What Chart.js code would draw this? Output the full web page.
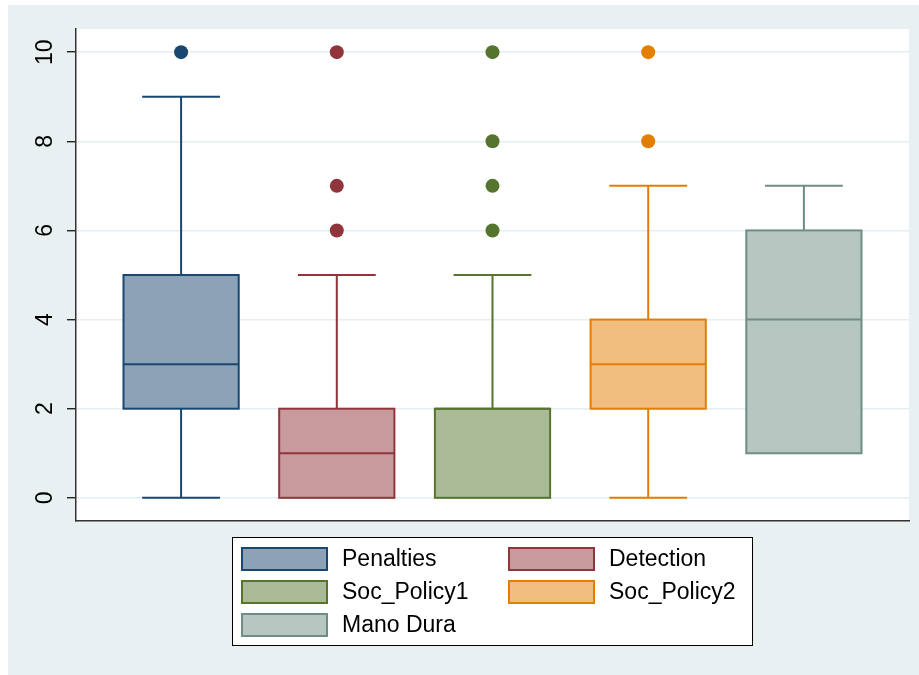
<!DOCTYPE html>
<html>
<head>
<meta charset="utf-8">
<script src="https://cdn.jsdelivr.net/npm/chart.js@4.4.1/dist/chart.umd.min.js"></script>
<style>
  html, body { margin: 0; padding: 0; background: #fff; }
  #wrap { width: 919px; height: 675px; }
</style>
</head>
<body>
<div id="wrap"><canvas id="boxChart"></canvas></div>
<script>
// data
const groups = ["Penalties", "Detection", "Soc_Policy1", "Soc_Policy2", "Mano Dura"];
const whiskerLow = [0, 0, 0, 0, 1];
const q1 = [2, 0, 0, 2, 1];
const medians = [3, 1, 2, 3, 4];
const q3 = [5, 2, 2, 4, 6];
const whiskerHigh = [9, 5, 5, 7, 7];
const outliers = [[10], [6, 7, 10], [6, 7, 8, 10], [8, 10], []];
const yTicks = [0, 2, 4, 6, 8, 10];

const lineColors = ["#1a476f", "#90353b", "#55752f", "#e37e00", "#6e8e84"];
const fillColors = ["#8ca3b7", "#c89a9d", "#aaba97", "#f1be7f", "#b6c6c1"];
const FONT = '"Liberation Sans", Arial, sans-serif';

// outer background + white plot region
const backgroundPlugin = {
  id: "background",
  beforeDraw(chart) {
    const { ctx, chartArea } = chart;
    ctx.save();
    ctx.fillStyle = "#ffffff";
    ctx.fillRect(0, 0, chart.width, chart.height);
    ctx.fillStyle = "#e8f0f2";
    ctx.fillRect(8, 5, chart.width - 8, chart.height - 5);
    ctx.fillStyle = "#ffffff";
    ctx.fillRect(chartArea.left, chartArea.top,
      chartArea.right - chartArea.left, chartArea.bottom - chartArea.top);
    ctx.restore();
  },
};

// boxes, whiskers, medians drawn through the scales
const boxPlugin = {
  id: "boxes",
  beforeDatasetsDraw(chart) {
    const { ctx } = chart;
    const xs = chart.scales.x;
    const ys = chart.scales.y;
    ctx.save();
    groups.forEach((g, i) => {
      const cx = xs.getPixelForValue(i + 1);
      const boxL = xs.getPixelForValue(i + 1 - 0.37);
      const boxR = xs.getPixelForValue(i + 1 + 0.37);
      const capL = xs.getPixelForValue(i + 1 - 0.25);
      const capR = xs.getPixelForValue(i + 1 + 0.25);
      const yQ1 = ys.getPixelForValue(q1[i]);
      const yQ3 = ys.getPixelForValue(q3[i]);
      const yMed = ys.getPixelForValue(medians[i]);
      ctx.strokeStyle = lineColors[i];
      ctx.lineWidth = 2;

      // whiskers
      if (whiskerHigh[i] > q3[i]) {
        const yw = ys.getPixelForValue(whiskerHigh[i]);
        ctx.beginPath();
        ctx.moveTo(cx, yQ3);
        ctx.lineTo(cx, yw);
        ctx.moveTo(capL, yw);
        ctx.lineTo(capR, yw);
        ctx.stroke();
      }
      if (whiskerLow[i] < q1[i]) {
        const yw = ys.getPixelForValue(whiskerLow[i]);
        ctx.beginPath();
        ctx.moveTo(cx, yQ1);
        ctx.lineTo(cx, yw);
        ctx.moveTo(capL, yw);
        ctx.lineTo(capR, yw);
        ctx.stroke();
      }

      // box
      ctx.fillStyle = fillColors[i];
      ctx.fillRect(boxL, yQ3, boxR - boxL, yQ1 - yQ3);
      ctx.strokeRect(boxL, yQ3, boxR - boxL, yQ1 - yQ3);

      // median
      ctx.beginPath();
      ctx.moveTo(boxL, yMed);
      ctx.lineTo(boxR, yMed);
      ctx.stroke();
    });
    ctx.restore();
  },
};

// rotated y tick labels + legend
const overlayPlugin = {
  id: "overlay",
  afterDraw(chart) {
    const { ctx } = chart;
    const ys = chart.scales.y;
    ctx.save();
    ctx.fillStyle = "#000";
    ctx.font = "23px " + FONT;
    ctx.textAlign = "center";
    ctx.textBaseline = "middle";
    ys.ticks.forEach((t) => {
      const y = ys.getPixelForValue(t.value);
      ctx.save();
      ctx.translate(46, y);
      ctx.rotate(-Math.PI / 2);
      ctx.fillText(String(t.value), 0, 0);
      ctx.restore();
    });

    // legend box
    ctx.fillStyle = "#fff";
    ctx.fillRect(232.5, 537.5, 520, 108);
    ctx.strokeStyle = "#000";
    ctx.lineWidth = 1;
    ctx.strokeRect(232.5, 537.5, 520, 108);

    const colX = [242, 509];
    const rowY = [559, 592, 625];
    ctx.textAlign = "left";
    ctx.font = "23px " + FONT;
    groups.forEach((g, i) => {
      const x = colX[i % 2];
      const y = rowY[Math.floor(i / 2)];
      ctx.fillStyle = fillColors[i];
      ctx.fillRect(x, y - 11, 85, 22);
      ctx.strokeStyle = lineColors[i];
      ctx.lineWidth = 2;
      ctx.strokeRect(x, y - 11, 85, 22);
      ctx.fillStyle = "#000";
      ctx.fillText(g, x + 100, y + 1);
    });
    ctx.restore();
  },
};

const datasets = groups.map((g, i) => ({
  label: g,
  data: outliers[i].map((v) => ({ x: i + 1, y: v })),
  backgroundColor: lineColors[i],
  borderWidth: 0,
  pointRadius: 7,
  pointHoverRadius: 7,
}));

new Chart(document.getElementById("boxChart"), {
  type: "scatter",
  data: { datasets: datasets },
  options: {
    responsive: true,
    maintainAspectRatio: false,
    animation: false,
    layout: { padding: { left: 0, top: 29, right: 10, bottom: 154 } },
    scales: {
      x: {
        type: "linear",
        min: 0.325,
        max: 5.675,
        grid: { display: false },
        ticks: { display: false },
        border: { display: true, color: "#333", width: 1.5 },
        afterFit: (scale) => { scale.height = 0; },
      },
      y: {
        type: "linear",
        min: -0.52,
        max: 10.52,
        afterBuildTicks: (scale) => {
          scale.ticks = yTicks.map((v) => ({ value: v }));
        },
        ticks: { display: false },
        grid: {
          color: "#e6eef2",
          lineWidth: 1.5,
          drawTicks: true,
          tickLength: 9,
          tickColor: "#000",
          tickWidth: 1.2,
        },
        border: { display: true, color: "#333", width: 1.5 },
        afterFit: (scale) => { scale.width = 76; },
      },
    },
    plugins: {
      legend: { display: false },
      tooltip: { enabled: false },
    },
  },
  plugins: [backgroundPlugin, boxPlugin, overlayPlugin],
});
</script>
</body>
</html>
